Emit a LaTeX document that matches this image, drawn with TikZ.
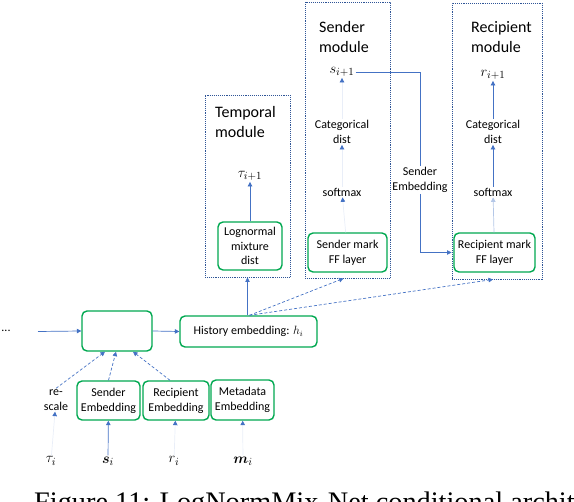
\documentclass[tikz,border=0pt]{standalone}
\usepackage{fontspec}
\usepackage{bm}
\usetikzlibrary{arrows.meta}
\setmainfont{Carlito}
\newfontfamily\capfont{Liberation Serif}
\definecolor{boxgreen}{RGB}{0,168,80}
\definecolor{arrblue}{RGB}{68,114,196}
\definecolor{modblue}{RGB}{47,85,151}

\tikzset{
  gbox/.style={draw=boxgreen,line width=1.4pt,rounded corners=5pt,align=center,inner sep=1pt,font=\fontsize{12}{15}\selectfont},
  modbox/.style={draw=modblue,densely dotted,line width=0.9pt,inner sep=0pt},
  txt/.style={align=center,inner sep=1pt,font=\fontsize{12}{15}\selectfont},
  mtxt/.style={inner sep=1pt,font=\fontsize{15}{17}\selectfont},
  ttl/.style={align=left,inner sep=0pt,font=\fontsize{16}{20}\selectfont},
  arr/.style={draw=arrblue,line width=0.7pt,-{Triangle[length=4.5pt,width=4.5pt]}},
  faint/.style={draw=arrblue!12,line width=0.7pt,-{Triangle[length=4.5pt,width=4.5pt,color=arrblue]}},
  dotarr/.style={arr,densely dashed},
}

\begin{document}
\begin{tikzpicture}[x=1pt,y=1pt,yscale=-1]
		\useasboundingbox (0,0) rectangle (574,502);
		\clip (0,0) rectangle (574,502);
		
		% modules
		\node[modbox,minimum width=85pt,minimum height=182pt] (tempmod) at (247.5,186) {};
		\node[modbox,minimum width=85pt,minimum height=276pt] (sendmod) at (347.5,140) {};
		\node[modbox,minimum width=90pt,minimum height=276pt] (recmod) at (497,141) {};
		\node[ttl,anchor=north west] (temptitle) at (215,106) {Temporal\\module};
		\node[ttl,anchor=north west] (sendtitle) at (319,21) {Sender\\module};
		\node[ttl,anchor=north west] (rectitle) at (471,21) {Recipient\\module};
		
		% temporal module
		\node[mtxt] (tnext) at (250,176) {$\tau_{i+1}$};
		\node[gbox,minimum width=64pt,minimum height=48pt,font=\fontsize{12}{14.5}\selectfont] (lognorm) at (250,246) {Lognormal\\mixture\\dist};
		
		% sender module
		\node[mtxt] (snext) at (342,72) {$s_{i+1}$};
		\node[txt] (catS) at (342,132) {Categorical\\dist};
		\node[txt] (softS) at (342,192) {softmax};
		\node[gbox,minimum width=79pt,minimum height=39pt] (ffS) at (347.5,252.5) {Sender mark\\FF layer};
		
		% recipient module
		\node[mtxt] (rnext) at (493,75) {$r_{i+1}$};
		\node[txt] (catR) at (493,132) {Categorical\\dist};
		\node[txt] (softR) at (493,192) {softmax};
		\node[gbox,minimum width=81pt,minimum height=39pt] (ffR) at (494.5,252.5) {Recipient mark\\FF layer};
		\node[txt] (sendlbl) at (420,180) {Sender\\Embedding};
		
		% input side
		\node[txt] (dots) at (6,331) {...};
		\coordinate (inp) at (38,331.5);
		\node[gbox,minimum width=70pt,minimum height=40pt] (mix) at (117,331) {};
		\node[gbox,minimum width=137pt,minimum height=31pt] (hist) at (248.5,331.5) {History embedding: $h_i$};
		\node[txt] (rescale) at (56,400) {re-\\scale};
		\node[gbox,minimum width=63pt,minimum height=39pt] (sendemb) at (108.5,400.5) {Sender\\Embedding};
		\node[gbox,minimum width=66pt,minimum height=39pt] (recemb) at (176,400.5) {Recipient\\Embedding};
		\node[gbox,minimum width=63pt,minimum height=40pt] (metaemb) at (242.5,400) {Metadata\\Embedding};
		\node[mtxt] (taui) at (51,461) {$\tau_i$};
		\node[mtxt] (si) at (108,461) {$\bm{s}_i$};
		\node[mtxt] (ri) at (174,461) {$r_i$};
		\node[mtxt] (mi) at (243,461) {$\bm{m}_i$};
		
		% connectors
		\draw[arr] (inp) -- (mix.west);
		\draw[arr] (mix.east) -- (hist.west);
		\draw[dotarr] (rescale.north) -- ([xshift=-12pt]mix.south);
		\draw[dotarr] (sendemb.north) -- ([xshift=-1pt]mix.south);
		\draw[dotarr] ([xshift=-6pt]recemb.north) -- ([xshift=16pt]mix.south);
		\draw[faint] (taui) -- (rescale);
		\draw[arr] (si) -- (sendemb);
		\draw[faint] (ri) -- (recemb);
		\draw[faint] (mi) -- (metaemb);
		
		\draw[arr] (hist.north -| tempmod.south) -- (tempmod.south);
		\draw[dotarr] ([xshift=2pt]hist.north -| tempmod.south) -- ([xshift=-4pt]sendmod.south);
		\draw[dotarr] ([xshift=2pt]hist.north -| tempmod.south) -- ([xshift=-4pt]recmod.south);
		
		\draw[arr] (lognorm) -- (tnext);
		\draw[faint] (ffS) -- (softS);
		\draw[faint] (softS) -- (catS);
		\draw[faint] (catS) -- (snext);
		\draw[arr,draw=arrblue!40] (ffR) -- (softR);
		\draw[arr] (softR) -- (catR);
		\draw[arr] (catR) -- (rnext);
		
		\draw[draw=arrblue,line width=0.7pt] (snext.east) -| (sendlbl.north);
		\draw[arr] (sendlbl.south) |- (recmod.west |- ffR);
		
		% caption
		\node[anchor=base west,inner sep=0pt,font=\capfont\fontsize{28.3}{30}\selectfont] (cap) at (34,512) {Figure 11: LogNormMix-Net conditional archit};
\end{tikzpicture}
\end{document}
